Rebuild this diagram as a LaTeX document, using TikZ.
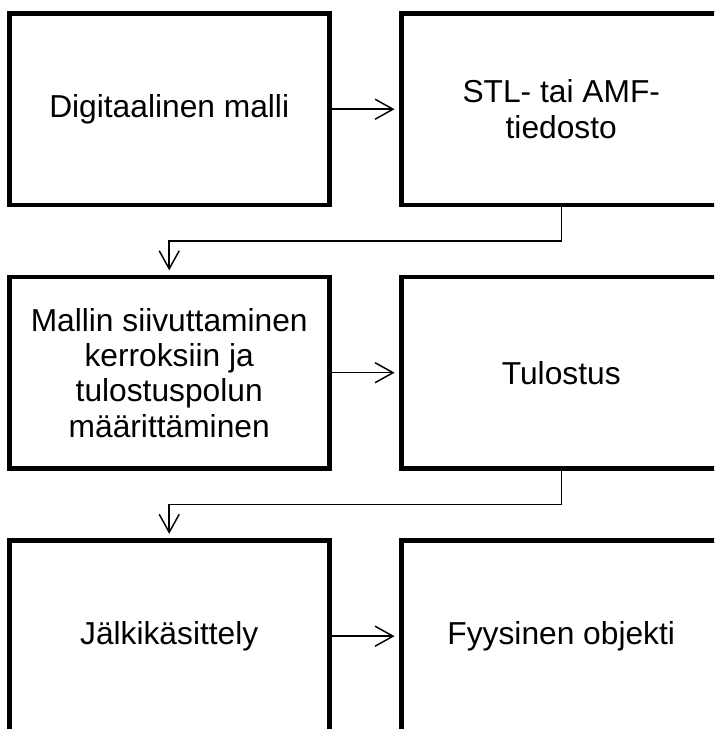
\documentclass[tikz,border=0pt]{standalone}
\usepackage{fontspec}
\setmainfont{Liberation Sans}
\usetikzlibrary{arrows.meta,positioning}

\begin{document}
\begin{tikzpicture}[font=\fontsize{23.8pt}{26.5pt}\selectfont, >={Straight Barb[length=13.5pt,width=15pt]},
  node distance=54pt and 54pt,
  stage/.style={draw, line width=3.6pt, align=center, minimum width=240pt, minimum height=143.6pt, inner sep=0pt, outer sep=0pt},
  flow/.style={->, line width=1.1pt, shorten >=5pt}]
  \clip (-126.9pt,81.9pt) rectangle (408.6pt,-464.8pt);
  \node[stage] (model) {Digitaalinen malli};
  \node[stage, right=of model] (stl) {STL- tai AMF-\\tiedosto};
  \node[stage, below=of model] (slicing) {Mallin siivuttaminen\\kerroksiin ja\\tulostuspolun\\määrittäminen};
  \node[stage, right=of slicing] (printing) {Tulostus};
  \node[stage, below=of slicing] (post) {Jälkikäsittely};
  \node[stage, right=of post] (object) {Fyysinen objekti};
  \draw[flow] (model) -- (stl);
  \draw[flow] (stl.south) -- ++(0,-27pt) -| (slicing.north);
  \draw[flow] (slicing) -- (printing);
  \draw[flow] (printing.south) -- ++(0,-27pt) -| (post.north);
  \draw[flow] (post) -- (object);
\end{tikzpicture}
\end{document}
